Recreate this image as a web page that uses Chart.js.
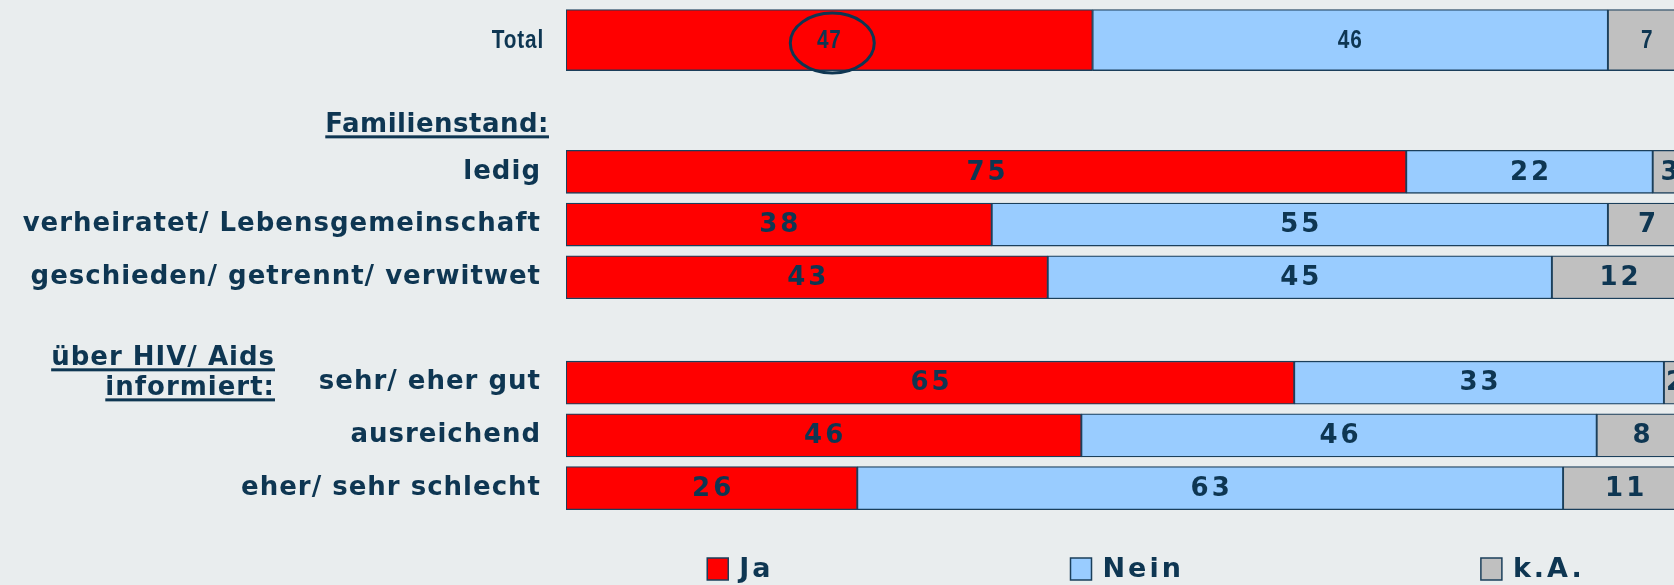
<!DOCTYPE html>
<html lang="de">
<head>
<meta charset="UTF-8">
<title>Ja / Nein / k.A.</title>
<script src="https://cdn.jsdelivr.net/npm/chart.js@4.4.1/dist/chart.umd.min.js"></script>
<style>
  html, body { margin: 0; padding: 0; background: #e9edee; }
  #wrap { width: 1674px; height: 585px; }
</style>
</head>
<body>
<div id="wrap"><canvas id="chart" width="1674" height="585"></canvas></div>
<script>
  // Daten
  const categories = ['Total', 'ledig', 'verheiratet/ Lebensgemeinschaft', 'geschieden/ getrennt/ verwitwet',
                      'sehr/ eher gut', 'ausreichend', 'eher/ sehr schlecht'];
  const seriesNames = ['Ja', 'Nein', 'k.A.'];
  const ja   = [47, 75, 38, 43, 65, 46, 26];
  const nein = [46, 22, 55, 45, 33, 46, 63];
  const ka   = [7, 3, 7, 12, 2, 8, 11];
  const groupTitles = ['Familienstand:', 'über HIV/ Aids', 'informiert:'];

  // Layout (Zeilenpositionen auf der y-Achse, Farben, Schriften)
  const rowPos = [0, 2.5, 3.5, 4.5, 6.5, 7.5, 8.5];
  const colors = ['#ff0000', '#99ccff', '#c0c0c0'];
  const navy = '#0e3652';
  const edge = '#1b3f5b';
  const boldFont = 'bold 26px "DejaVu Sans"';
  const narrowFont = 'bold 26px "Liberation Sans", Arial, sans-serif';
  const narrowScale = 0.8;   // schmale Schrift der Total-Zeile

  const values = [ja, nein, ka];
  const datasets = [];
  // Total-Zeile (dicker Balken)
  values.forEach((vals, s) => {
    datasets.push({
      label: seriesNames[s],
      isTotal: true,
      data: [{ x: vals[0], y: rowPos[0] }],
      backgroundColor: colors[s],
      borderColor: edge,
      borderWidth: 1.3,
      borderSkipped: false,
      barThickness: 61
    });
  });
  // übrige Zeilen
  values.forEach((vals, s) => {
    datasets.push({
      label: seriesNames[s],
      isTotal: false,
      data: vals.slice(1).map((v, i) => ({ x: v, y: rowPos[i + 1] })),
      backgroundColor: colors[s],
      borderColor: edge,
      borderWidth: 1.3,
      borderSkipped: false,
      barThickness: 43
    });
  });

  function narrowText(ctx, text, x, y, align) {
    ctx.save();
    ctx.translate(x, y);
    ctx.scale(narrowScale, 1);
    ctx.textAlign = align;
    ctx.fillText(text, 0, 0);
    ctx.restore();
  }

  // Werte in den Balken + Kreis um die 47
  const valueLabels = {
    id: 'valueLabels',
    afterDatasetsDraw(chart) {
      const ctx = chart.ctx;
      ctx.save();
      ctx.fillStyle = navy;
      ctx.textAlign = 'center';
      ctx.textBaseline = 'middle';
      chart.data.datasets.forEach((ds, di) => {
        const meta = chart.getDatasetMeta(di);
        meta.data.forEach((bar, i) => {
          const p = bar.getCenterPoint();
          const txt = String(ds.data[i].x);
          if (ds.isTotal) {
            ctx.font = narrowFont;
            ctx.letterSpacing = '1px';
            narrowText(ctx, txt, p.x, p.y + 1, 'center');
          } else {
            ctx.font = boldFont;
            ctx.letterSpacing = '3px';
            ctx.fillText(txt, p.x + 1.5, p.y + 1);
          }
        });
      });
      // Ellipse um Total / Ja
      const p = chart.getDatasetMeta(0).data[0].getCenterPoint();
      ctx.strokeStyle = navy;
      ctx.lineWidth = 3;
      ctx.beginPath();
      ctx.ellipse(p.x + 3, p.y + 3, 42, 30, 0, 0, Math.PI * 2);
      ctx.stroke();
      ctx.restore();
    }
  };

  // Total-Beschriftung, Gruppentitel (unterstrichen) und Legende
  const extras = {
    id: 'extras',
    beforeDraw(chart) {
      chart.ctx.letterSpacing = '1px';
    },
    afterDraw(chart) {
      const ctx = chart.ctx;
      const y = chart.scales.y;
      const left = chart.chartArea.left;
      ctx.save();
      ctx.fillStyle = navy;
      ctx.textBaseline = 'middle';
      ctx.font = narrowFont;
      ctx.letterSpacing = '1px';
      narrowText(ctx, categories[0], left - 22, y.getPixelForValue(rowPos[0]) + 1, 'right');

      ctx.font = boldFont;
      ctx.textAlign = 'right';
      ctx.textBaseline = 'alphabetic';
      const titles = [
        [groupTitles[0], left - 17, y.getPixelForValue(rowPos[1] - 0.92), '0.5px'],
        [groupTitles[1], left - 291, y.getPixelForValue(rowPos[4] - 0.5), '1px'],
        [groupTitles[2], left - 291, y.getPixelForValue(rowPos[4] + 0.07), '1px']
      ];
      titles.forEach(([t, x, cy, ls]) => {
        ctx.letterSpacing = ls;
        const w = ctx.measureText(t).width;
        const base = cy + 9;
        ctx.fillText(t, x, base);
        ctx.fillRect(x - w, base + 3, w, 3);
      });

      // Legende
      ctx.font = 'bold 27px "DejaVu Sans"';
      ctx.letterSpacing = '3px';
      ctx.textAlign = 'left';
      ctx.textBaseline = 'middle';
      const gap = 297, box = 21;
      const widths = seriesNames.map(n => box + 11 + ctx.measureText(n).width);
      const total = widths.reduce((a, b) => a + b, 0) + gap * (seriesNames.length - 1);
      let x = (chart.chartArea.left + chart.chartArea.right) / 2 + 26 - total / 2;
      const ly = chart.chartArea.bottom + 44;
      seriesNames.forEach((n, i) => {
        ctx.fillStyle = colors[i];
        ctx.fillRect(x, ly - 11, box, 22);
        ctx.strokeStyle = edge;
        ctx.lineWidth = 1.5;
        ctx.strokeRect(x, ly - 11, box, 22);
        ctx.fillStyle = navy;
        ctx.fillText(n, x + box + 11, ly + 1);
        x += widths[i] + gap;
      });
      ctx.restore();
    }
  };

  new Chart(document.getElementById('chart'), {
    type: 'bar',
    data: { datasets },
    options: {
      indexAxis: 'y',
      responsive: false,
      animation: false,
      layout: { padding: { left: 0, right: 0, top: 0, bottom: 60 } },
      plugins: {
        legend: { display: false },
        tooltip: { enabled: false }
      },
      scales: {
        x: {
          stacked: true,
          display: false,
          min: 0,
          max: 98.9
        },
        y: {
          type: 'linear',
          stacked: true,
          reverse: true,
          offset: false,
          min: -0.76,
          max: 9.2,
          grid: { display: false, drawTicks: false },
          border: { display: false },
          afterFit(scale) {
            // feste Achsenbreite, keine zusätzliche Polsterung oben/unten
            scale.width = 566;
            scale.paddingTop = 0;
            scale.paddingBottom = 0;
            if (scale._margins) { scale._margins.top = 0; scale._margins.bottom = 0; }
            scale.getPadding = () => ({ left: 0, top: 0, right: 0, bottom: 0 });
          },
          afterBuildTicks(scale) { scale.ticks = rowPos.map(v => ({ value: v })); },
          ticks: {
            autoSkip: false,
            padding: 25,
            color: navy,
            font: { family: '"DejaVu Sans"', size: 26, weight: 'bold' },
            // "Total" wird schmal im Plugin gezeichnet
            callback: (v, i) => i === 0 ? '' : categories[i]
          }
        }
      }
    },
    plugins: [valueLabels, extras]
  });
</script>
</body>
</html>
